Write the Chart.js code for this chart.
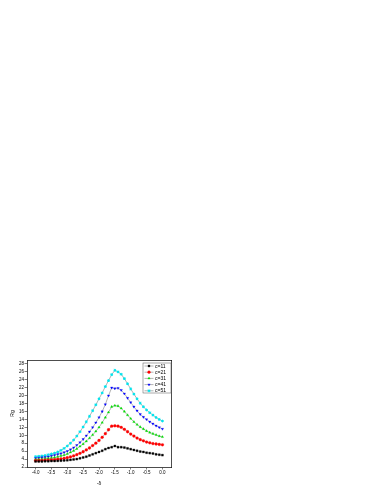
<!DOCTYPE html>
<html>
<head>
<meta charset="utf-8">
<script src="https://cdn.jsdelivr.net/npm/chart.js@4.4.0/dist/chart.umd.min.js"></script>
<style>
  html, body { margin: 0; padding: 0; background: #fff; }
  #wrap { position: absolute; left: 0; top: 355px; width: 180px; height: 139px; }
</style>
</head>
<body>
<div id="wrap"><canvas id="myChart" width="180" height="139"></canvas></div>
<script>
// x = -delta, step 0.1
const xValues = [-4.0,-3.9,-3.8,-3.7,-3.6,-3.5,-3.4,-3.3,-3.2,-3.1,-3.0,-2.9,-2.8,-2.7,-2.6,-2.5,-2.4,-2.3,-2.2,-2.1,
  -2.0,-1.9,-1.8,-1.7,-1.6,-1.5,-1.4,-1.3,-1.2,-1.1,-1.0,-0.9,-0.8,-0.7,-0.6,-0.5,-0.4,-0.3,-0.2,-0.1,0.0];

const c11 = [3.4,3.4,3.4,3.45,3.45,3.5,3.5,3.55,3.6,3.65,3.7,3.8,3.9,4.0,4.2,4.4,4.6,4.9,5.2,5.5,
  5.8,6.1,6.5,6.8,7.0,7.3,7.0,7.0,6.9,6.7,6.5,6.3,6.1,5.9,5.8,5.6,5.5,5.4,5.2,5.1,5.0];
const c21 = [3.6,3.6,3.65,3.7,3.75,3.8,3.85,3.95,4.05,4.2,4.35,4.55,4.8,5.1,5.45,5.85,6.3,6.8,7.4,8.0,
  8.7,9.5,10.4,11.4,12.3,12.4,12.3,12.0,11.5,10.9,10.3,9.8,9.3,8.9,8.6,8.3,8.1,7.9,7.8,7.7,7.6];
const c31 = [3.9,3.95,4.0,4.1,4.2,4.3,4.4,4.6,4.8,5.0,5.3,5.7,6.1,6.6,7.2,7.8,8.5,9.3,10.1,11.0,
  12.0,13.2,14.5,15.8,17.2,17.5,17.4,16.8,16.0,15.1,14.2,13.4,12.7,12.1,11.6,11.1,10.7,10.4,10.1,9.8,9.6];
const c41 = [4.2,4.3,4.4,4.5,4.6,4.8,5.0,5.2,5.4,5.7,6.0,6.4,6.9,7.5,8.2,9.0,9.9,10.9,12.0,13.2,
  14.5,16.0,17.8,20.0,22.0,21.8,21.9,21.4,20.5,19.4,18.3,17.2,16.2,15.3,14.6,14.0,13.4,12.9,12.4,12.0,11.6];
const c51 = [4.6,4.7,4.8,4.9,5.1,5.3,5.5,5.8,6.2,6.7,7.3,8.0,8.8,9.8,10.9,12.1,13.4,14.8,16.2,17.7,
  19.2,20.7,22.3,23.8,25.3,26.4,26.0,25.4,24.3,23.0,21.7,20.4,19.2,18.1,17.2,16.4,15.7,15.1,14.5,14.0,13.6];

const seriesNames = ["c=11", "c=21", "c=31", "c=41", "c=51"];
const xTicks = [-4.0, -3.5, -3.0, -2.5, -2.0, -1.5, -1.0, -0.5, 0.0];
const yTicks = [2, 4, 6, 8, 10, 12, 14, 16, 18, 20, 22, 24, 26, 28];

const FONT = 'Liberation Sans';

function pts(arr) {
  return arr.map((v, i) => ({x: xValues[i], y: v}));
}

function series(label, arr, color, style, rot) {
  return {
    label: label,
    data: pts(arr),
    borderColor: '#666',
    borderWidth: 0.5,
    pointStyle: style,
    pointRotation: rot || 0,
    pointRadius: 1.4,
    pointBackgroundColor: color,
    pointBorderColor: color,
    pointBorderWidth: style === 'star' ? 1 : 0.3,
    fill: false
  };
}

// legend box inside the plot, top right
const boxLegend = {
  id: 'boxLegend',
  afterDraw(chart) {
    const ctx = chart.ctx, a = chart.chartArea;
    const w = 28, h = 30, x0 = a.right - w, y0 = a.top + 3;
    ctx.save();
    ctx.strokeStyle = '#555';
    ctx.lineWidth = 0.5;
    ctx.strokeRect(x0, y0, w, h);
    ctx.font = '5px "' + FONT + '"';
    ctx.textBaseline = 'middle';
    ctx.textAlign = 'left';
    chart.data.datasets.forEach((ds, i) => {
      const y = y0 + 3 + i * 6.2;
      ctx.strokeStyle = '#666';
      ctx.lineWidth = 0.5;
      ctx.beginPath();
      ctx.moveTo(x0 + 1.5, y);
      ctx.lineTo(x0 + 10.5, y);
      ctx.stroke();
      ctx.fillStyle = ds.pointBackgroundColor;
      ctx.strokeStyle = ds.pointBorderColor;
      ctx.lineWidth = ds.pointBorderWidth;
      Chart.helpers.drawPoint(ctx, {
        pointStyle: ds.pointStyle, radius: 1.4,
        borderWidth: ds.pointBorderWidth, rotation: ds.pointRotation
      }, x0 + 6, y);
      ctx.fillStyle = '#000';
      ctx.fillText(ds.label, x0 + 12, y + 0.3);
    });
    ctx.restore();
  }
};

const tickFont = {size: 4.5, family: FONT};

new Chart("myChart", {
  type: "line",
  data: {
    datasets: [
      series(seriesNames[0], c11, '#000000', 'rect'),
      series(seriesNames[1], c21, '#ff0000', 'circle'),
      series(seriesNames[2], c31, '#00dd00', 'triangle'),
      series(seriesNames[3], c41, '#0000ff', 'triangle', 180),
      series(seriesNames[4], c51, '#00e5ee', 'star')
    ]
  },
  options: {
    responsive: false,
    animation: false,
    devicePixelRatio: 1,
    layout: {padding: {left: 10, top: 5, right: 9, bottom: 7}},
    plugins: {legend: {display: false}, tooltip: {enabled: false}},
    scales: {
      x: {
        type: 'linear',
        min: -4.27, max: 0.27,
        afterBuildTicks: s => { s.ticks = xTicks.map(v => ({value: v})); },
        afterFit: s => { s.height = 20; },
        grid: {display: true, drawOnChartArea: false, drawTicks: true, tickLength: 2.5, color: '#000', lineWidth: 0.5},
        border: {display: true, color: '#000', width: 0.7},
        ticks: {font: tickFont, color: '#000', padding: 1, maxRotation: 0, autoSkip: false,
          callback: v => v.toFixed(1)},
        title: {display: true, text: '-δ', font: {size: 5, family: FONT}, color: '#000', padding: 0}
      },
      y: {
        min: 2, max: 29,
        afterBuildTicks: s => { s.ticks = yTicks.map(v => ({value: v})); },
        afterFit: s => { s.width = 17; },
        grid: {display: true, drawOnChartArea: false, drawTicks: true, tickLength: 2.5, color: '#000', lineWidth: 0.5},
        border: {display: true, color: '#000', width: 0.7},
        ticks: {font: tickFont, color: '#000', padding: 0.5, autoSkip: false},
        title: {display: true, text: 'Rg', font: {size: 5, family: FONT}, color: '#000', padding: 0}
      },
      x2: {
        type: 'linear', position: 'top', min: -4.27, max: 0.27,
        afterFit: s => { s.height = 0; },
        grid: {display: false},
        border: {display: true, color: '#000', width: 0.7},
        ticks: {display: false}
      },
      y2: {
        position: 'right', min: 2, max: 29,
        afterFit: s => { s.width = 0; },
        grid: {display: false},
        border: {display: true, color: '#000', width: 0.7},
        ticks: {display: false}
      }
    }
  },
  plugins: [boxLegend]
});
</script>
</body>
</html>
